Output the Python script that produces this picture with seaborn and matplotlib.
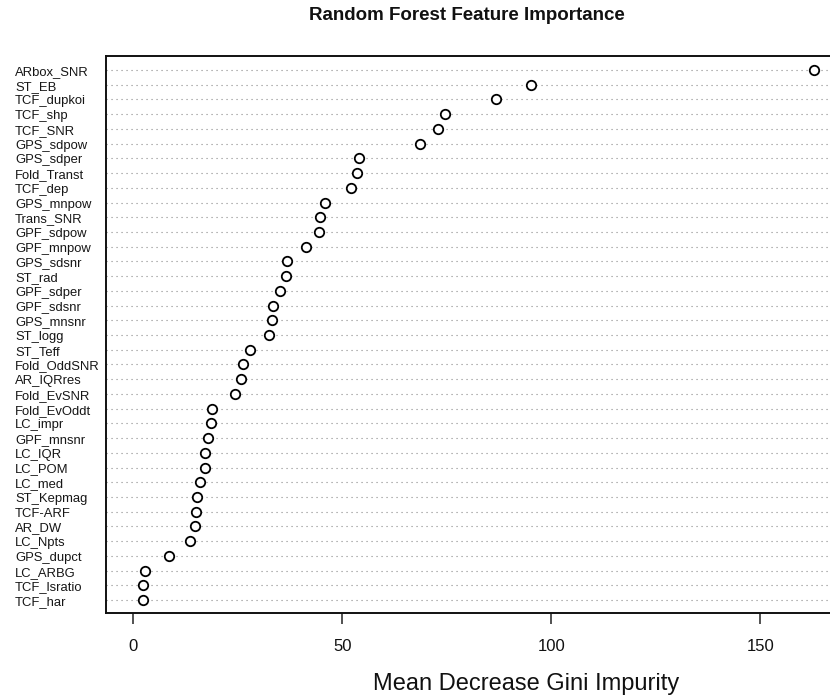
import matplotlib
matplotlib.use("Agg")
import matplotlib.pyplot as plt
import matplotlib.transforms as mtransforms
import seaborn as sns
import pandas as pd

# Feature names, ordered from most to least important
features = [
    "ARbox_SNR", "ST_EB", "TCF_dupkoi", "TCF_shp", "TCF_SNR", "GPS_sdpow",
    "GPS_sdper", "Fold_Transt", "TCF_dep", "GPS_mnpow", "Trans_SNR",
    "GPF_sdpow", "GPF_mnpow", "GPS_sdsnr", "ST_rad", "GPF_sdper",
    "GPF_sdsnr", "GPS_mnsnr", "ST_logg", "ST_Teff", "Fold_OddSNR",
    "AR_IQRres", "Fold_EvSNR", "Fold_EvOddt", "LC_impr", "GPF_mnsnr",
    "LC_IQR", "LC_POM", "LC_med", "ST_Kepmag", "TCF-ARF", "AR_DW",
    "LC_Npts", "GPS_dupct", "LC_ARBG", "TCF_lsratio", "TCF_har",
]

# Mean decrease in Gini impurity for each feature
gini_decrease = [
    162.8, 95.2, 86.9, 74.5, 73.0, 68.7,
    53.9, 53.5, 52.0, 45.8, 44.6,
    44.4, 41.3, 36.8, 36.5, 35.1,
    33.4, 33.2, 32.5, 27.9, 26.3,
    25.8, 24.3, 18.9, 18.6, 17.9,
    17.2, 17.2, 16.0, 15.3, 15.0, 14.8,
    13.6, 8.6, 2.9, 2.4, 2.4,
]

x_ticks = [0, 50, 100, 150]

df = pd.DataFrame({"feature": features, "importance": gini_decrease})

sns.set_style("white")
plt.rcParams["font.family"] = ["Liberation Sans", "DejaVu Sans"]

W, H = 830, 700
fig = plt.figure(figsize=(W / 100, H / 100), dpi=100)

# plot box: left edge 105.7 px, top 56 px, bottom 613 px, runs off the right side
left_px, right_px, top_px, bot_px = 105.7, 840.0, 56.0, 613.0
ax = fig.add_axes([left_px / W, 1 - bot_px / H,
                   (right_px - left_px) / W, (bot_px - top_px) / H])

sns.stripplot(data=df, x="importance", y="feature", order=features,
              jitter=False, color="white", edgecolor="black", linewidth=1.3,
              size=6.8, zorder=3, ax=ax)

# dotted guide line along every feature row
ax.grid(axis="y", linestyle=(0, (1, 3.5)), color="#8a8a8a", linewidth=0.8)
ax.grid(axis="x", visible=False)
ax.set_axisbelow(True)

ax.set_xlim(-6.6, 169.1)
ax.set_ylim(len(features) - 1 + 0.88, -0.95)

ax.set_xticks(x_ticks)
ax.set_xticklabels([str(t) for t in x_ticks])
ax.tick_params(axis="x", direction="out", length=8, width=1.1, color="#222222",
               labelsize=12, pad=11, labelcolor="#111111", bottom=True)

# row names, left-aligned in the margin and sitting just under each row line
ax.tick_params(axis="y", length=0, labelleft=False)
name_tf = mtransforms.blended_transform_factory(fig.transFigure, ax.transData)
name_tf = name_tf + mtransforms.ScaledTranslation(0, -2 / 100, fig.dpi_scale_trans)
for i, name in enumerate(features):
    ax.text(15 / W, i, name, transform=name_tf, ha="left", va="center",
            fontsize=9.4, color="#161616", clip_on=False)

for s in ax.spines.values():
    s.set_visible(True)
    s.set_color("#111111")
    s.set_linewidth(1.4)

ax.set_ylabel("")
ax.set_xlabel("Mean Decrease Gini Impurity", fontsize=17, color="#111111")
ax.xaxis.set_label_coords((526 - left_px) / (right_px - left_px),
                          -(673 - bot_px) / (bot_px - top_px))

fig.text(467 / W, 1 - 15 / H, "Random Forest Feature Importance",
         ha="center", va="center", fontsize=13.5, fontweight="bold",
         color="#111111")

fig.savefig("out.png", dpi=100)
